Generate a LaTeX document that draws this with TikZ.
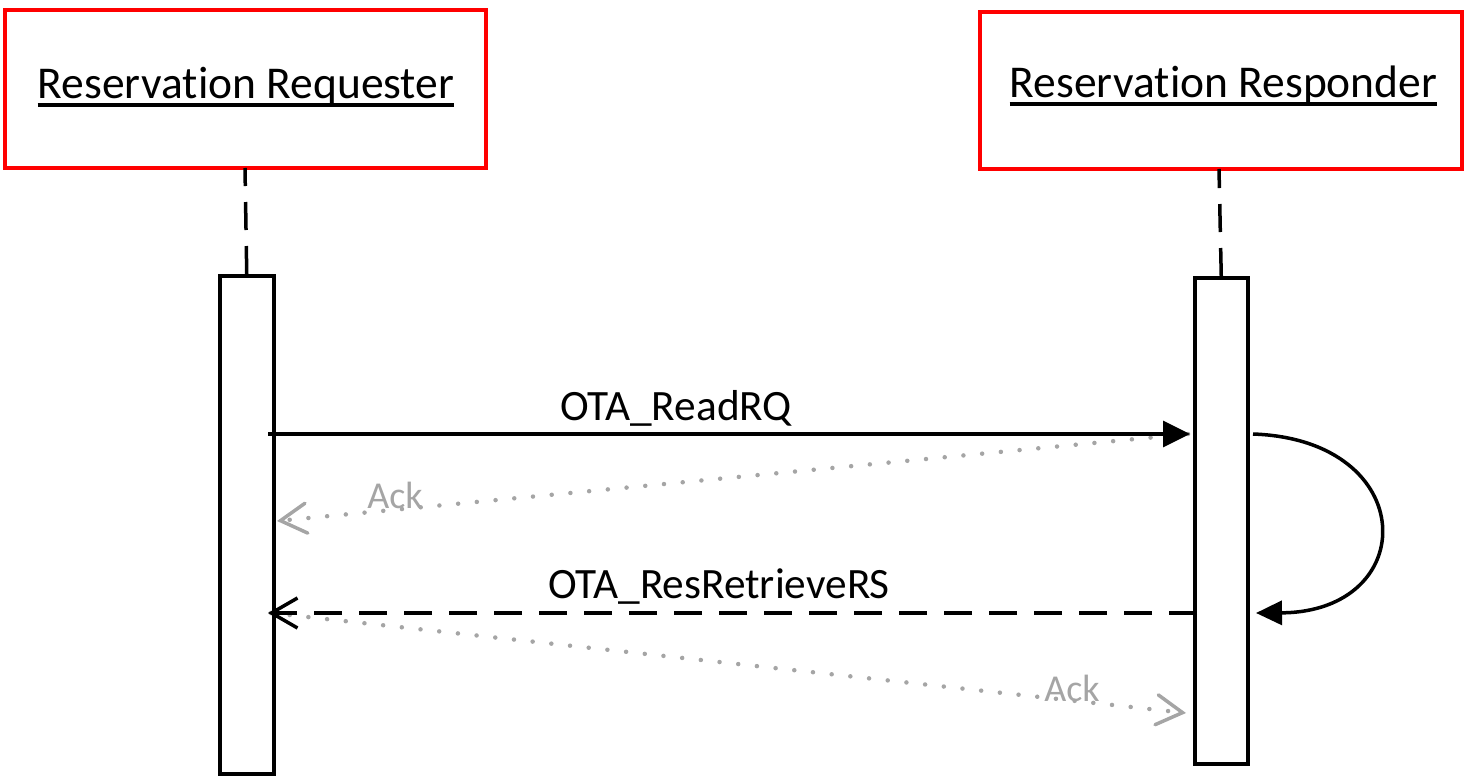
\documentclass[tikz,border=0pt]{standalone}
\usepackage{fontspec}
\setmainfont{Carlito}[Ligatures={NoCommon,NoRare,NoContextual},RawFeature={-liga;-clig;-dlig}]
\usetikzlibrary{arrows.meta}
\definecolor{boxred}{RGB}{255,0,0}
\definecolor{ackgray}{RGB}{165,165,165}
\newcommand{\resword}{Reserva\kern0pt tion}
\tikzset{
  headbox/.style={draw=boxred, line width=4pt, fill=white},
  actbox/.style={draw=black, line width=3.5pt, fill=white},
  title/.style={font=\fontsize{45.5pt}{52pt}\selectfont, inner sep=0pt, anchor=base},
  msg/.style={font=\fontsize{43.3pt}{50pt}\selectfont, inner sep=0pt, anchor=base},
  acktext/.style={font=\fontsize{38pt}{44pt}\selectfont, text=ackgray, inner sep=0pt, anchor=base},
  lifeline/.style={line width=3.5pt, dash pattern=on 28pt off 16pt},
  callmsg/.style={line width=3.5pt, -{Triangle[length=27pt,width=26pt]}},
  replymsg/.style={line width=3.5pt, dash pattern=on 28pt off 17pt, -{Straight Barb[length=26pt,width=30pt,line width=3.5pt]}},
  ackmsg/.style={ackgray, line width=4.5pt, line cap=round, dash pattern=on 0pt off 18.8pt, -{Straight Barb[length=26pt,width=30pt,line width=3.5pt,line cap=round]}},
}
\begin{document}
\begin{tikzpicture}[x=1pt,y=-1pt]
\useasboundingbox (0,0) rectangle (1470,778);
% header boxes
\draw[headbox] (5,10) rectangle (486,168);
\draw[headbox] (980,12) rectangle (1462,169);
\node[title] (tL) at (246,99) {\resword{} Requester};
\node[title] (tR) at (1223.5,98) {\resword{} Responder};
\draw[line width=3.5pt] ([yshift=-6pt]tL.base west) -- ([yshift=-6pt]tL.base east);
\draw[line width=3.5pt] ([yshift=-6pt]tR.base west) -- ([yshift=-6pt]tR.base east);
% lifelines
\coordinate (hL) at (245,168);
\coordinate (hR) at (1219,169);
\node[actbox, minimum width=54pt, minimum height=498pt, inner sep=0pt, anchor=north west] (aL) at (218,274) {};
\node[actbox, minimum width=53pt, minimum height=486pt, inner sep=0pt, anchor=north west] (aR) at (1193,276) {};
\draw[lifeline] (aL.north) -- (hL);
\draw[lifeline] (aR.north) -- (hR);
% message anchors
\coordinate (m1s) at (268,434);
\coordinate (m1e) at (1190,434);
\coordinate (a1s) at (1188,434);
\coordinate (a1e) at (277,521);
\coordinate (m2s) at (1197,613);
\coordinate (m2e) at (268,613);
\coordinate (a2s) at (271,613);
\coordinate (a2e) at (1186,713);
\coordinate (sS) at (1253,434);
\coordinate (sE) at (1256,613);
% messages
\draw[ackmsg] (a1s) -- (a1e);
\draw[ackmsg] (a2s) -- (a2e);
\draw[callmsg] (m1s) -- (m1e);
\draw[replymsg] (m2s) -- (m2e);
\draw[line width=3.5pt, -{Triangle[length=26pt,width=24pt]}] (sS) .. controls (1421,440) and (1421,612) .. (sE);
% labels
\node[msg] (l1) at (676,420) {OTA\_ReadRQ};
\node[msg] (l2) at (719,598) {OTA\_ResRetrieveRS};
\node[acktext] (k1) at (395,508) {Ack};
\node[acktext] (k2) at (1072,701) {Ack};
\end{tikzpicture}
\end{document}
